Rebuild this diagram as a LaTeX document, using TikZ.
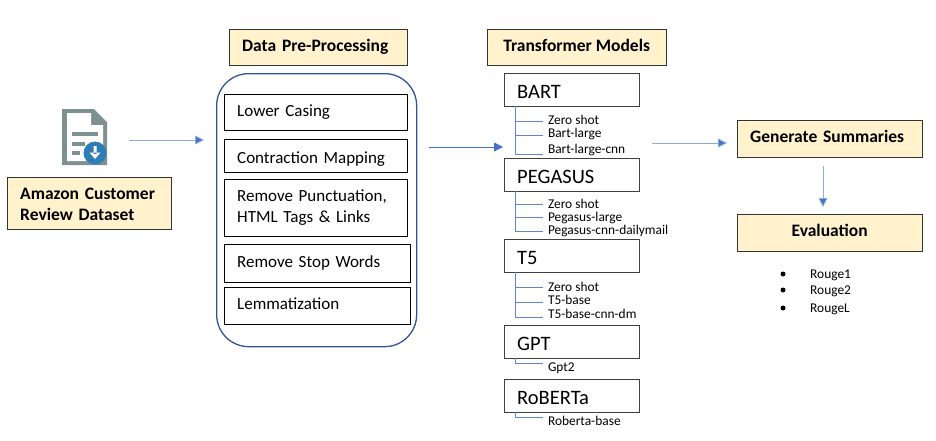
\documentclass[tikz,border=0pt]{standalone}
\usepackage{fontspec}
\setmainfont{Carlito}
\usetikzlibrary{arrows.meta}
\definecolor{headfill}{HTML}{FFF2CC}
\definecolor{tipblue}{HTML}{4472C4}
\definecolor{shaftblue}{HTML}{8FAADC}
\definecolor{roundblue}{HTML}{2F5597}
\definecolor{docgrey}{HTML}{7F9090}
\definecolor{badgeblue}{HTML}{2E7DB5}
\tikzset{
    headbox/.style={draw=black!80, fill=headfill, anchor=north west, inner sep=0pt, font=\bfseries\fontsize{17.5}{21}\selectfont, align=center},
    headline/.style={headbox, text height=12pt, text depth=3.5pt},
    stepbox/.style={draw=black, anchor=north west, inner sep=0pt, font=\fontsize{17}{21}\selectfont, align=left, text width=157pt, minimum width=183pt},
    modelbox/.style={draw=black!75, anchor=north west, minimum width=135pt, minimum height=33pt, inner sep=0pt, font=\fontsize{20.5}{24}\selectfont, align=left, text width=109pt, text height=20pt, text depth=2pt},
    leaf/.style={anchor=west, inner sep=0pt, xshift=-5pt, outer sep=5pt, font=\fontsize{13.4}{15}\selectfont, text height=9pt, text depth=1pt},
    metric/.style={anchor=west, inner sep=0pt, font=\fontsize{13.4}{15}\selectfont, text height=9pt, text depth=1pt},
    branch/.style={draw=tipblue!85, line width=0.8pt},
    flow/.style={draw=shaftblue, line width=0.9pt, -{Triangle[length=9pt,width=9pt,fill=tipblue]}},
}
\begin{document}
\begin{tikzpicture}[x=1pt, y=-1pt]
    \useasboundingbox (0,0) rectangle (936,440);

    % dataset icon
    \fill[docgrey] (62,109) -- (94,109) -- (107,122) -- (107,165) -- (62,165) -- cycle;
    \fill[white] (67,113) -- (91,113) -- (91,125) -- (103,125) -- (103,161) -- (67,161) -- cycle;
    \fill[docgrey] (72,132) rectangle (98,136);
    \fill[docgrey] (72,142) rectangle (85,146);
    \fill[docgrey] (72,151) rectangle (80,155);
    \fill[badgeblue] (95,153) circle (11.5);
    \fill[white] (93.5,146) rectangle (96.5,154) (89.5,152.5) -- (100.5,152.5) -- (95,159) -- cycle;

    \node(dataset)[headbox, minimum width=164pt, minimum height=52pt, text width=138pt, align=left, text height=12pt, text depth=19pt] at (7,177) {Amazon Customer\\Review Dataset};
    \node(preproc)[headline, minimum width=178pt, minimum height=36pt, text width=152pt, align=left] at (229,29) {Data Pre-Processing};
    \node(models)[headline, minimum width=179pt, minimum height=36pt] at (487,29) {Transformer Models};
    \node(summaries)[headline, minimum width=185pt, minimum height=37pt, text width=159pt, align=left] at (737,120) {Generate Summaries};
    \node(evaluation)[headline, minimum width=185pt, minimum height=37pt] at (737,214) {Evaluation};

    % pre-processing steps
    \node(stepgroup)[draw=roundblue, line width=1.3pt, rounded corners=32pt, anchor=north west, minimum width=200pt, minimum height=273pt] at (216,73) {};
    \node(lower)[stepbox, minimum height=36pt] at (224,94) {Lower Casing};
    \node(contraction)[stepbox, minimum height=33pt, text height=15pt, text depth=0pt] at (224,139) {Contraction Mapping};
    \node(punct)[stepbox, minimum height=57pt] at (224,179) {Remove Punctuation,\\HTML Tags \& Links};
    \node(stop)[stepbox, minimum width=186pt, text width=160pt, minimum height=38pt] at (224,244) {Remove Stop Words};
    \node(lemma)[stepbox, minimum width=186pt, text width=160pt, minimum height=37pt, text height=13pt, text depth=6pt] at (224,287) {Lemmatization};

    % model boxes
    \node(bart)[modelbox] at (504,73) {BART};
    \node(pegasus)[modelbox] at (504,158) {PEGASUS};
    \node(tfive)[modelbox] at (504,239) {T5};
    \node(gpt)[modelbox] at (504,325) {GPT};
    \node(roberta)[modelbox] at (504,379) {RoBERTa};

    \node(bartzero)[leaf] at (548,120) {Zero shot};
    \node(bartlarge)[leaf] at (548,133) {Bart-large};
    \node(bartcnn)[leaf] at (548,149) {Bart-large-cnn};
    \node(pegzero)[leaf] at (548,204) {Zero shot};
    \node(peglarge)[leaf] at (548,217) {Pegasus-large};
    \node(pegcnn)[leaf] at (548,230) {Pegasus-cnn-dailymail};
    \node(tfivezero)[leaf] at (548,287) {Zero shot};
    \node(tfivebase)[leaf] at (548,300) {T5-base};
    \node(tfivecnn)[leaf] at (548,314) {T5-base-cnn-dm};
    \node(gpttwo)[leaf] at (548,367) {Gpt2};
    \node(robertabase)[leaf] at (548,421) {Roberta-base};

    \foreach \parent/\child/\shift in {bart/bartzero/-1, bart/bartlarge/-2, bart/bartcnn/-5,
        pegasus/pegzero/0, pegasus/peglarge/0, pegasus/pegcnn/-1,
        tfive/tfivezero/0, tfive/tfivebase/-2, tfive/tfivecnn/-3,
        gpt/gpttwo/4, roberta/robertabase/4}
        \draw[branch] ([xshift=11pt]\parent.south west) |- ([yshift=\shift pt]\child.west);

    % metrics
    \foreach \name/\ypos/\label in {rougeone/274/Rouge1, rougetwo/290/Rouge2, rougel/308/RougeL} {
        \node(\name)[metric] at (810,\ypos) {\label};
        \fill (783,\ypos) circle (2.5);
    }

    % flow between the stages
    \coordinate(dataout) at (129,140);
    \coordinate(datain) at (204,140);
    \coordinate(preout) at (429,147);
    \coordinate(modelin) at (503,147);
    \coordinate(modelout) at (652,143);
    \coordinate(sumin) at (727,143);
    \coordinate(sumout) at (823,166);
    \coordinate(evalin) at (823,207);
    \draw[flow] (dataout)--(datain);
    \draw[flow, draw=tipblue] (preout)--(modelin);
    \draw[flow] (modelout)--(sumin);
    \draw[flow] (sumout)--(evalin);
\end{tikzpicture}
\end{document}
